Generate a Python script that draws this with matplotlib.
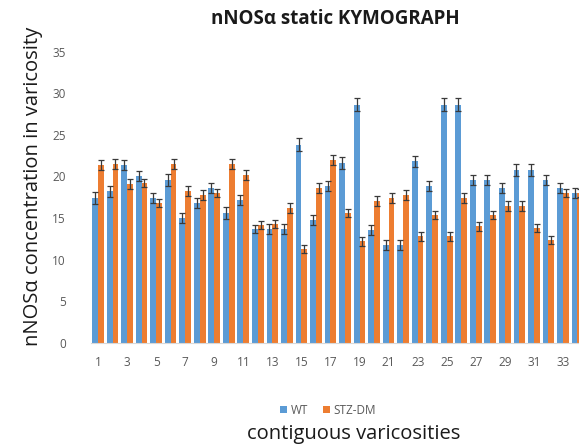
import matplotlib
matplotlib.use("Agg")
import matplotlib.pyplot as plt
import numpy as np

categories = list(range(1, 35))
wt = [17.4, 18.2, 21.4, 20.0, 17.4, 19.6, 15.0, 16.8, 18.6, 15.6, 17.2, 13.7, 13.7, 13.7, 23.8,
      14.8, 18.8, 21.6, 28.6, 13.6, 11.8, 11.8, 21.8, 18.8, 28.6, 28.6, 19.6, 19.6, 18.6, 20.8,
      20.8, 19.6, 18.6, 18.0]
stz = [21.4, 21.5, 19.1, 19.2, 16.8, 21.5, 18.2, 17.8, 18.0, 21.5, 20.2, 14.2, 14.3, 16.2, 11.3,
       18.6, 22.0, 15.6, 12.2, 17.0, 17.4, 17.8, 12.8, 15.4, 12.8, 17.4, 14.0, 15.4, 16.4, 16.4,
       13.8, 12.4, 18.0, 18.0]
wt_err = [0.7, 0.7, 0.6, 0.6, 0.6, 0.7, 0.6, 0.6, 0.6, 0.7, 0.6, 0.5, 0.6, 0.6, 0.8,
          0.6, 0.6, 0.7, 0.8, 0.6, 0.6, 0.6, 0.7, 0.6, 0.8, 0.8, 0.6, 0.6, 0.6, 0.7,
          0.7, 0.6, 0.6, 0.6]
stz_err = [0.6, 0.6, 0.6, 0.5, 0.5, 0.6, 0.6, 0.6, 0.5, 0.6, 0.6, 0.5, 0.5, 0.6, 0.5,
           0.6, 0.6, 0.5, 0.5, 0.6, 0.6, 0.6, 0.5, 0.5, 0.5, 0.6, 0.5, 0.5, 0.6, 0.6,
           0.5, 0.5, 0.5, 0.5]
series_names = ["WT", "STZ-DM"]
title = "nNOSα static KYMOGRAPH"
ylabel = "nNOSα concentration in varicosity"
xlabel = "contiguous varicosities"
yticks = [0, 5, 10, 15, 20, 25, 30, 35]

plt.rcParams['font.family'] = ['Open Sans', 'DejaVu Sans']

W, H = 579, 447
fig = plt.figure(figsize=(W / 100, H / 100), dpi=100)
# axes: category 1 centre at x=98 px, spacing 14.53 px; y: 0 at 343 px, 35 at 51.5 px
left_px = 98 - 14.53 / 2
right_px = left_px + 34 * 14.53
ax = fig.add_axes([left_px / W, (H - 343) / H, (right_px - left_px) / W, (343 - 51.5) / H])

x = np.arange(len(categories))
w = 0.4
blue = "#5B9BD5"
orange = "#ED7D31"
ekw = dict(ecolor="#3a3a3a", elinewidth=0.9, capsize=2.4, capthick=0.9)
ax.bar(x - w / 2, wt, w, color=blue, yerr=wt_err, error_kw=ekw, label=series_names[0])
ax.bar(x + w / 2, stz, w, color=orange, yerr=stz_err, error_kw=ekw, label=series_names[1])

ax.set_xlim(-0.5, len(categories) - 0.5)
ax.set_ylim(0, 35)
ax.set_yticks(yticks)
ax.set_xticks(x[::2])
ax.set_xticklabels([str(c) for c in categories[::2]])
ax.tick_params(axis='both', length=0, labelsize=8.5, labelcolor="#595959")
ax.tick_params(axis='x', pad=9)
ax.tick_params(axis='y', pad=18)
for s in ["top", "right", "left"]:
    ax.spines[s].set_visible(False)
ax.spines["bottom"].set_color("#D9D9D9")

fig.text(335 / W, 1 - 19 / H, title, ha="center", va="center", fontsize=13.5,
         fontweight="bold", color="#1a1a1a")
fig.text(33 / W, 1 - 186 / H, ylabel, ha="center", va="center", rotation=90,
         fontsize=14.5, color="#1a1a1a")
fig.text(354 / W, 1 - 434 / H, xlabel, ha="center", va="center", fontsize=14.5, color="#1a1a1a")

leg = fig.legend(loc="center", bbox_to_anchor=(328 / W, 1 - 410 / H), ncol=2, frameon=False,
                 fontsize=8.5, handlelength=0.6, handleheight=0.6, columnspacing=1.2,
                 handletextpad=0.3)
for t in leg.get_texts():
    t.set_color("#595959")

fig.savefig("out.png", dpi=100)
